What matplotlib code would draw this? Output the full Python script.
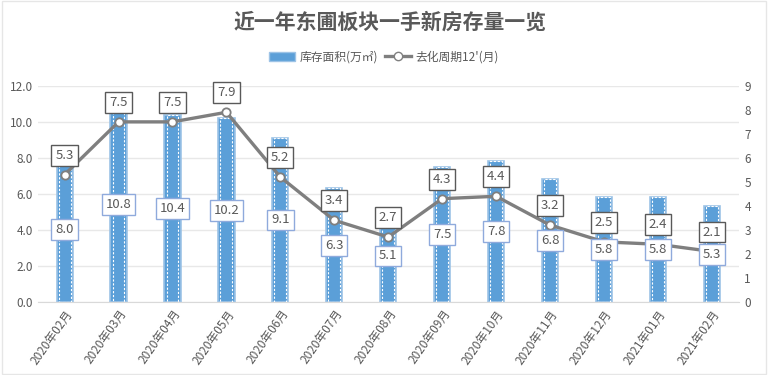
import matplotlib.pyplot as plt
import matplotlib.patches as mpatches
from matplotlib.lines import Line2D

plt.rcParams['font.family'] = ['Noto Sans CJK SC', 'DejaVu Sans']

months = ["2020年02月", "2020年03月", "2020年04月", "2020年05月", "2020年06月",
          "2020年07月", "2020年08月", "2020年09月", "2020年10月", "2020年11月",
          "2020年12月", "2021年01月", "2021年02月"]
stock = [8.0, 10.8, 10.4, 10.2, 9.1, 6.3, 5.1, 7.5, 7.8, 6.8, 5.8, 5.8, 5.3]
cycle = [5.3, 7.5, 7.5, 7.9, 5.2, 3.4, 2.7, 4.3, 4.4, 3.2, 2.5, 2.4, 2.1]

gray_txt = "#595959"
blue = "#5B9FD8"
x = list(range(len(months)))

fig = plt.figure(figsize=(7.68, 3.75), dpi=100)
ax = fig.add_axes([0.049, 0.195, 0.913, 0.576])
ax2 = ax.twinx()

# bars: blue fill, light edge, white dashed inner outline
ax.bar(x, stock, width=0.30, color=blue, edgecolor="#9DC3E6", linewidth=1.2, zorder=2)
ax.bar(x, stock, width=0.22, fill=False, edgecolor="white", linewidth=0.8,
       linestyle=(0, (2, 1.5)), zorder=3)

ax.set_ylim(0, 12)
ax.set_yticks([0, 2, 4, 6, 8, 10, 12])
ax.set_yticklabels([f"{t:.1f}" for t in [0, 2, 4, 6, 8, 10, 12]])
ax.set_xlim(-0.5, len(months) - 0.5)
ax.set_xticks(x)
ax.set_xticklabels(months, rotation=55, ha="right", rotation_mode="anchor")
ax.grid(axis="y", color="#E8E8E8", linewidth=1, zorder=0)
ax.set_axisbelow(True)

ax2.plot(x, cycle, color="#7F7F7F", linewidth=2.4, marker="o", markersize=6,
         markerfacecolor="white", markeredgecolor="#7F7F7F", markeredgewidth=1.3, zorder=5)
for i, v in enumerate(cycle):
    ax2.annotate(f"{v:.1f}", (i, v), xytext=(0, 14), textcoords="offset points",
                 ha="center", va="center", fontsize=9.5, color=gray_txt, zorder=7,
                 bbox=dict(boxstyle="square,pad=0.3", fc="white", ec="#595959", lw=1))
# bar value labels sit on top of the line
for i, v in enumerate(stock):
    ax2.text(i, v / 2, f"{v:.1f}", transform=ax.transData, ha="center", va="center",
             fontsize=9.5, color=gray_txt, zorder=8,
             bbox=dict(boxstyle="square,pad=0.3", fc="white", ec="#8FAADC", lw=1))
ax2.set_ylim(0, 9)
ax2.set_yticks(range(10))

for a in (ax, ax2):
    for s in a.spines.values():
        s.set_visible(False)
    a.tick_params(length=0, labelsize=8.5, colors=gray_txt)
ax.spines["bottom"].set_visible(True)
ax.spines["bottom"].set_color("#D9D9D9")
ax.tick_params(axis="x", pad=4)
ax2.tick_params(axis="y", pad=4)
ax2.set_zorder(ax.get_zorder() + 1)
ax2.patch.set_visible(False)

fig.text(0.508, 0.94, "近一年东圃板块一手新房存量一览", ha="center", va="center",
         fontsize=15, fontweight="bold", color=gray_txt)

handles = [mpatches.Patch(facecolor=blue, edgecolor="#9DC3E6"),
           Line2D([0], [0], color="#7F7F7F", lw=2.4, marker="o", markersize=6,
                  markerfacecolor="white", markeredgecolor="#7F7F7F")]
fig.legend(handles, ["库存面积(万㎡)", "去化周期12'(月)"], loc="center",
           bbox_to_anchor=(0.5, 0.848), ncol=2, frameon=False, fontsize=8.5,
           labelcolor=gray_txt, handlelength=2.2, columnspacing=0.6, handletextpad=0.4)

fig.patches.append(mpatches.Rectangle((0.002, 0.003), 0.996, 0.994, transform=fig.transFigure,
                                      fill=False, edgecolor="#E6E6E6", lw=1))

fig.savefig("out.png", dpi=100)
